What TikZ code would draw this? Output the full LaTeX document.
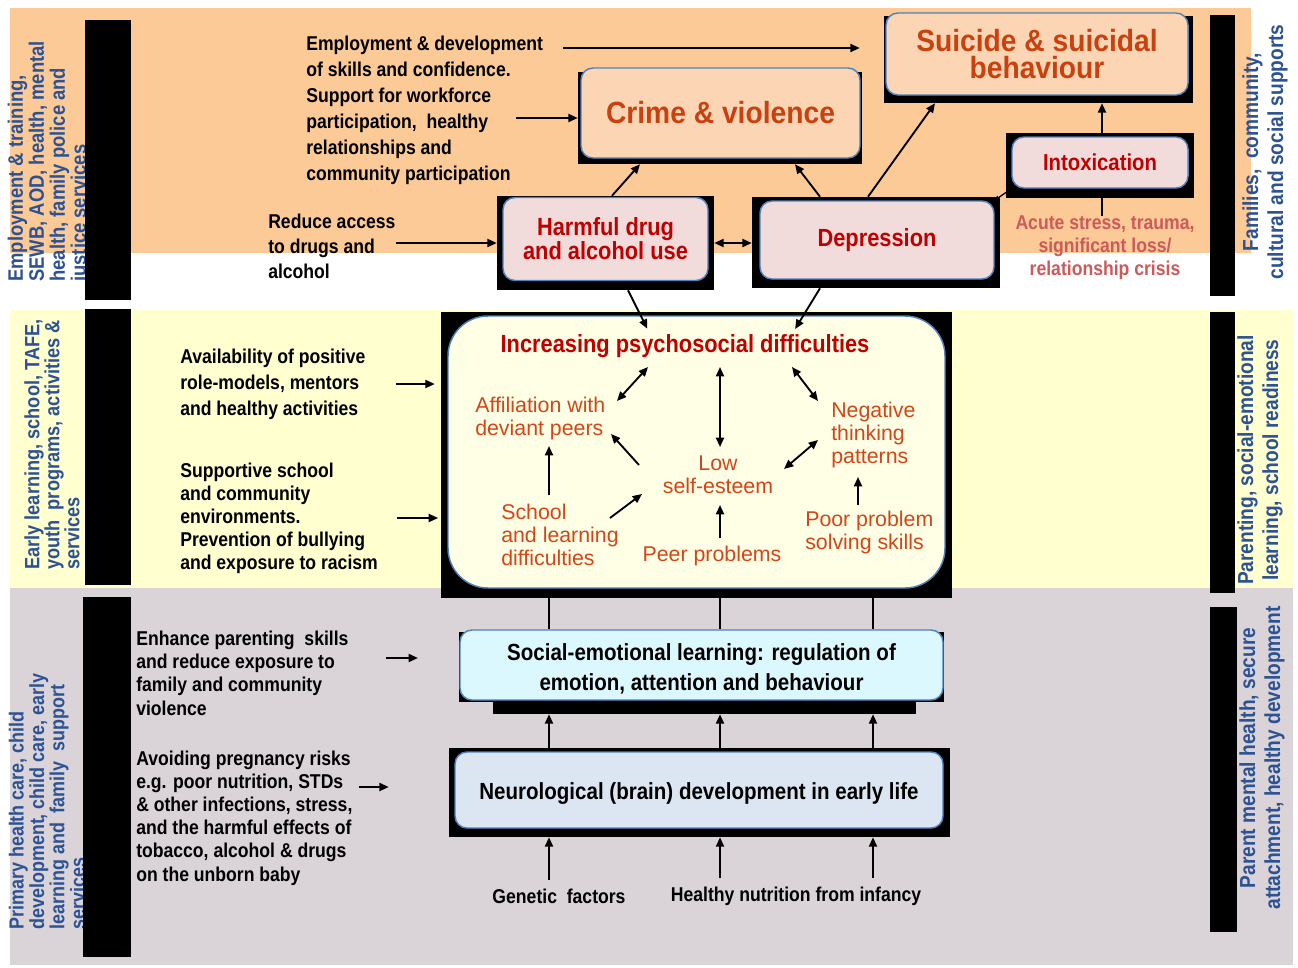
\documentclass[tikz,border=0pt]{standalone}
\usepackage{fontspec}
\setmainfont{Liberation Sans}
\newfontfamily\nar[FakeStretch=0.88]{Liberation Sans}
\newfontfamily\narw[FakeStretch=0.92]{Liberation Sans}
\usetikzlibrary{arrows.meta,fit}

\definecolor{bandorange}{RGB}{252,202,150}
\definecolor{bandyellow}{RGB}{255,255,208}
\definecolor{bandgray}{RGB}{218,212,216}
\definecolor{sideblue}{RGB}{44,82,148}
\definecolor{boxblue}{RGB}{79,129,189}
\definecolor{peach}{RGB}{252,213,181}
\definecolor{boxpink}{RGB}{242,220,219}
\definecolor{cream}{RGB}{255,255,229}
\definecolor{cyanbox}{RGB}{219,248,254}
\definecolor{bluebox}{RGB}{220,230,242}
\definecolor{titlered}{RGB}{192,0,0}
\definecolor{orred}{RGB}{201,65,15}
\definecolor{itemred}{RGB}{210,70,25}
\definecolor{acutered}{RGB}{205,90,90}

\tikzset{
  shadowbox/.style={fill=black, inner sep=0pt},
  box/.style={draw=boxblue, line width=1.1pt, rounded corners=9pt, inner sep=0pt, align=center},
  arr/.style={-{Triangle[length=7pt,width=6pt]}, line width=1.4pt},
  dbl/.style={{Triangle[length=7pt,width=6pt]}-{Triangle[length=7pt,width=6pt]}, line width=1.4pt},
  tinydbl/.style={{Triangle[length=3.5pt,width=3.5pt]}-{Triangle[length=3.5pt,width=3.5pt]}, line width=1pt},
  lbl/.style={inner sep=0pt, align=left, font={\nar\bfseries\fontsize{15}{19.5}\selectfont}},
  item/.style={inner sep=0pt, align=left, text=itemred, font={\fontsize{16}{17.25}\selectfont}},
  side/.style={inner sep=0pt, rotate=90, text=sideblue, align=left},
}

\begin{document}
\begin{tikzpicture}[x=0.75pt, y=-0.75pt]
\useasboundingbox (0,0) rectangle (1298,967);
% background bands
\fill[bandorange] (10,8) rectangle (1251,253);
\fill[bandyellow] (10,310) rectangle (1293,588);
\fill[bandgray] (10,588) rectangle (1293,965);

% service labels, left side
\node[side, anchor=west, font={\nar\bfseries\fontsize{15.7}{15.75}\selectfont}] (s_emp) at (49,282) {Employment \& training,\\SEWB, AOD, health, mental\\health, family police and\\justice services};
\node[side, anchor=west, font={\nar\bfseries\fontsize{15.5}{15}\selectfont}] (s_early) at (52,570) {Early learning, school, TAFE,\\youth\ \ programs, activities \&\\services};
\node[side, anchor=west, font={\nar\bfseries\fontsize{15.3}{14.25}\selectfont}] (s_prim) at (47,930) {Primary health care, child\\development, child care, early\\learning and\ \ family\ \ support\\services};
% black bars
\fill (85,20) rectangle (131,300);
\fill (85,309) rectangle (131,585);
\fill (83,597) rectangle (131,957);
\fill (1210,15) rectangle (1235,296);
\fill (1210,312) rectangle (1235,593);
\fill (1210,607) rectangle (1237,932);
% support labels, right side
\node[side, align=center, font={\nar\bfseries\fontsize{16.3}{18.75}\selectfont}] (s_fam) at (1265,152) {Families,\ \ community,\\cultural and social supports};
\node[side, align=center, font={\nar\bfseries\fontsize{16.3}{18.75}\selectfont}] (s_par) at (1260,460) {Parenting, social-emotional\\learning, school readiness};
\node[side, align=center, font={\nar\bfseries\fontsize{16.3}{18.75}\selectfont}] (s_men) at (1262,758) {Parent mental health, secure\\attachment, healthy development};

% outcome boxes
\node[shadowbox, fit={(884,16) (1193,103)}] (suic_sh) {};
\node[box, fill=peach, text=orred, minimum width=226.5pt, minimum height=61.5pt, font={\narw\bfseries\fontsize{23}{20}\selectfont}] (suic) at (1037,54) {Suicide \& suicidal\\behaviour};
\node[shadowbox, fit={(578,72) (862,164)}] (crime_sh) {};
\node[box, fill=peach, text=orred, minimum width=209.25pt, minimum height=67.5pt, font={\narw\bfseries\fontsize{23}{24}\selectfont}] (crime) at (720.5,113) {Crime \& violence};
\node[shadowbox, fit={(497,196) (714,290)}] (harm_sh) {};
\node[box, fill=boxpink, text=titlered, minimum width=153.75pt, minimum height=62.25pt, font={\nar\bfseries\fontsize{18.6}{18}\selectfont}] (harm) at (605.5,239) {Harmful drug\\and alcohol use};
\node[shadowbox, fit={(752,197) (1000,288)}] (depr_sh) {};
\node[box, fill=boxpink, text=titlered, minimum width=175.5pt, minimum height=58.5pt, font={\nar\bfseries\fontsize{18.6}{18}\selectfont}] (depr) at (877,240) {Depression};
\node[shadowbox, fit={(1006,133) (1194,198)}] (intox_sh) {};
\node[box, fill=boxpink, text=titlered, minimum width=132pt, minimum height=38.25pt, font={\nar\bfseries\fontsize{17.3}{18}\selectfont}] (intox) at (1100,162.5) {Intoxication};
\node[inner sep=0pt, align=center, text=acutered, font={\nar\bfseries\fontsize{15}{17.25}\selectfont}] (t_acu) at (1105,248) {Acute stress, trauma,\\significant loss/\\relationship crisis};

% psychosocial box
\node[shadowbox, fit={(441,312) (952,598)}] (psy_sh) {};
\node[box, rounded corners=30pt, fill=cream, minimum width=372.75pt, minimum height=204pt] (psy) at (696.5,452) {};
\node[inner sep=0pt, text=titlered, font={\nar\bfseries\fontsize{18.6}{18}\selectfont}] (t_psy) at (685,346) {Increasing psychosocial difficulties};
\node[item, anchor=west] (t_aff) at (475,418) {Affiliation with\\deviant peers};
\node[item, align=center] (t_low) at (718,475) {Low\\self-esteem};
\node[item, anchor=west] (t_neg) at (831,435) {Negative\\thinking\\patterns};
\node[item, anchor=west] (t_sch) at (501,535) {School\\and learning\\difficulties};
\node[item] (t_peer) at (712,556) {Peer problems};
\node[item, anchor=west] (t_poor) at (805,532) {Poor problem\\solving skills};

% early life boxes
\node[shadowbox, fit={(459,632) (944,702)}] (sel_sh) {};
\node[shadowbox, fit={(493,700) (916,714)}] (sel_bar) {};
\node[box, fill=cyanbox, minimum width=362.25pt, minimum height=52.5pt, font={\nar\bfseries\fontsize{17.5}{23}\selectfont}] (sel) at (701.5,665) {};
\node[inner sep=0pt, align=center, font={\nar\bfseries\fontsize{17.5}{23}\selectfont}] (t_sel) at (701.5,669) {Social-emotional learning: regulation of\\emotion, attention and behaviour};
\node[shadowbox, fit={(449,748) (950,837)}] (neuro_sh) {};
\node[box, fill=bluebox, minimum width=366pt, minimum height=57pt, font={\nar\bfseries\fontsize{17.5}{23}\selectfont}] (neuro) at (699,790) {};
\node[inner sep=0pt, font={\nar\bfseries\fontsize{17.5}{23}\selectfont}] (t_neuro) at (699,794) {Neurological (brain) development in early life};

% prevention texts
\node[lbl, anchor=west] (t_emp) at (306,110) {Employment \& development\\of skills and confidence.\\Support for workforce\\participation,\ \ healthy\\relationships and\\community participation};
\node[lbl, anchor=west, font={\nar\bfseries\fontsize{15}{19}\selectfont}] (t_red) at (268,246.5) {Reduce access\\to drugs and\\alcohol};
\node[lbl, anchor=west] (t_avail) at (180,384) {Availability of positive\\role-models, mentors\\and healthy activities};
\node[lbl, anchor=west, font={\nar\bfseries\fontsize{15}{17.25}\selectfont}] (t_supp) at (180,518) {Supportive school\\and community\\environments.\\Prevention of bullying\\and exposure to racism};
\node[lbl, anchor=west, font={\nar\bfseries\fontsize{15}{17.5}\selectfont}] (t_enh) at (136,673) {Enhance parenting\ \ skills\\and reduce exposure to\\family and community\\violence};
\node[lbl, anchor=west, font={\nar\bfseries\fontsize{15}{17.4}\selectfont}] (t_avo) at (136,818) {Avoiding pregnancy risks\\e.g. poor nutrition, STDs\\\& other infections, stress,\\and the harmful effects of\\tobacco, alcohol \& drugs\\on the unborn baby};
\node[lbl] (t_gen) at (559,896) {Genetic\ \ factors};
\node[lbl] (t_nut) at (796,896) {Healthy nutrition from infancy};

% connectors, top band
\draw[arr, shorten <=15pt, shorten >=18pt] (t_emp.east |- 0,48) -- (suic_sh.west |- 0,48);
\draw[arr] (516,0 |- crime_sh.west) -- (crime_sh.west);
\draw[arr] (t_red.east |- harm_sh.west) -- (harm_sh.west);
\draw[arr] (612,0 |- harm_sh.north) -- (640,0 |- crime_sh.south);
\draw[arr] (820,0 |- depr_sh.north) -- (795,0 |- crime_sh.south);
\draw[arr] (868,0 |- depr_sh.north) -- (935,0 |- suic_sh.south);
\draw[dbl] (harm_sh.east) -- (harm_sh.east -| depr_sh.west);
\draw[arr] (1102,0 |- intox_sh.north) -- (1102,0 |- suic_sh.south);
\draw[line width=1.4pt] (1102,0 |- t_acu.north) -- (1102,0 |- intox_sh.south);
\draw[tinydbl] (depr.north east) -- (intox.south west);
\draw[arr, shorten >=4.5pt] (628,0 |- harm_sh.south) -- (650,0 |- t_psy.north);
\draw[arr, shorten >=4.5pt] (820,0 |- depr_sh.south) -- (792,0 |- t_psy.north);

% connectors, middle band
\draw[arr, shorten <=23pt, shorten >=4.5pt] (t_avail.east) -- (t_avail.east -| psy_sh.west);
\draw[arr, shorten <=14pt, shorten >=2pt] (t_supp.east) -- (t_supp.east -| psy_sh.west);
\coordinate (c1a) at (648,367); \coordinate (c1b) at (617,401);
\coordinate (c2a) at (720,367); \coordinate (c2b) at (720,447);
\coordinate (c3a) at (792,367); \coordinate (c3b) at (818,401);
\coordinate (c4a) at (639,465); \coordinate (c4b) at (611,434);
\coordinate (c5a) at (549,495); \coordinate (c5b) at (549,446);
\coordinate (c6a) at (610,518); \coordinate (c6b) at (642,494);
\coordinate (c7a) at (720,538); \coordinate (c7b) at (720,505);
\coordinate (c8a) at (784,469); \coordinate (c8b) at (818,440);
\coordinate (c9a) at (858,505); \coordinate (c9b) at (858,477);
\draw[dbl] (c1a) -- (c1b);
\draw[dbl] (c2a) -- (c2b);
\draw[dbl] (c3a) -- (c3b);
\draw[arr] (c4a) -- (c4b);
\draw[arr] (c5a) -- (c5b);
\draw[arr] (c6a) -- (c6b);
\draw[arr] (c7a) -- (c7b);
\draw[dbl] (c8a) -- (c8b);
\draw[arr] (c9a) -- (c9b);

% connectors, bottom band
\draw[arr, shorten <=28pt, shorten >=31pt] (t_enh.east |- 0,658) -- (sel.west |- 0,658);
\draw[arr, shorten <=4.5pt, shorten >=45pt] (t_avo.east |- 0,787) -- (neuro_sh.west |- 0,787);
\draw[line width=1.4pt] (549,0 |- psy_sh.south) -- (549,0 |- sel.north);
\draw[line width=1.4pt] (720,0 |- psy_sh.south) -- (720,0 |- sel.north);
\draw[line width=1.4pt] (873,0 |- psy_sh.south) -- (873,0 |- sel.north);
\draw[arr] (549,0 |- neuro_sh.north) -- (549,0 |- sel_bar.south);
\draw[arr] (720,0 |- neuro_sh.north) -- (720,0 |- sel_bar.south);
\draw[arr] (873,0 |- neuro_sh.north) -- (873,0 |- sel_bar.south);
\draw[arr, shorten <=6pt] (549,0 |- t_gen.north) -- (549,0 |- neuro_sh.south);
\draw[arr, shorten <=6pt] (720,0 |- t_nut.north) -- (720,0 |- neuro_sh.south);
\draw[arr, shorten <=6pt] (873,0 |- t_nut.north) -- (873,0 |- neuro_sh.south);
\end{tikzpicture}
\end{document}
